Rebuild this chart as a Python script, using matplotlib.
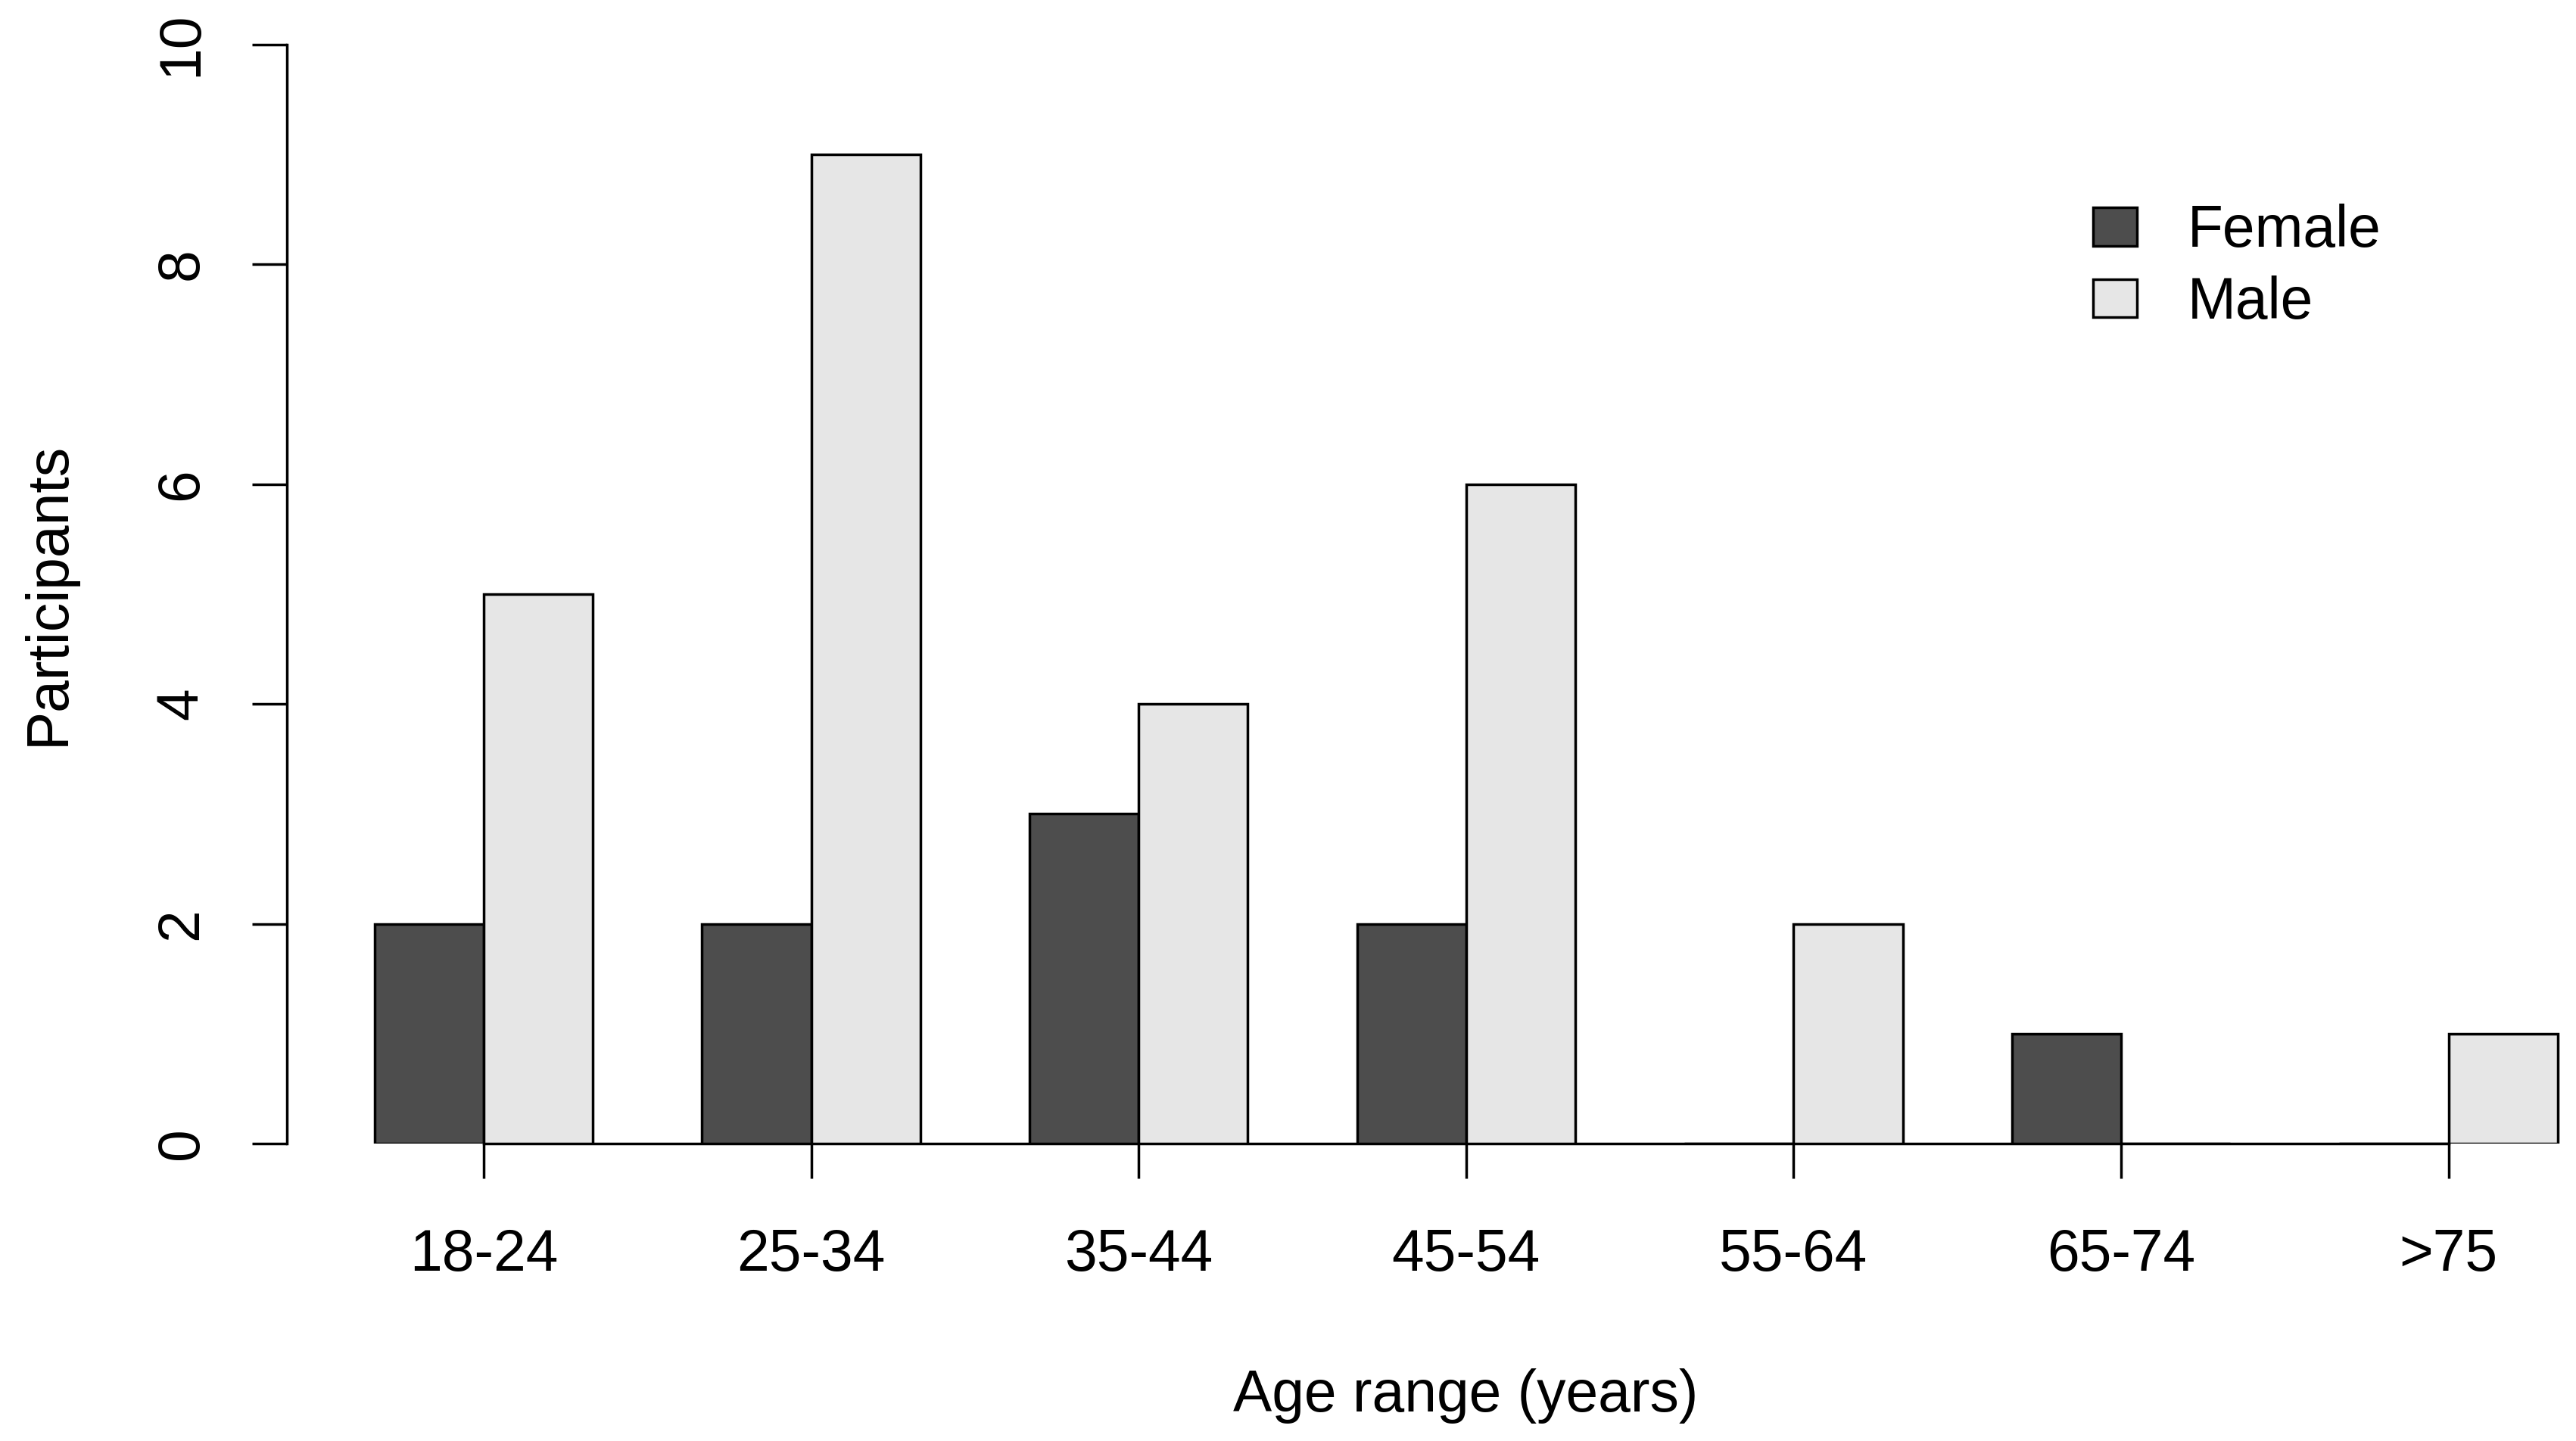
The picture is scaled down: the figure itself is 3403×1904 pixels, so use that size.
import matplotlib
matplotlib.use("Agg")
import matplotlib.pyplot as plt
import numpy as np

# data
age_groups = ['18-24', '25-34', '35-44', '45-54', '55-64', '65-74', '>75']
female = [2, 2, 3, 2, 0, 1, 0]
male = [5, 9, 4, 6, 2, 0, 1]
y_ticks = [0, 2, 4, 6, 8, 10]

plt.rcParams['font.family'] = ['Liberation Sans', 'DejaVu Sans']
fs = 55.3
lw = 2.5

fig = plt.figure(figsize=(34.03, 19.04), dpi=100)
ax = fig.add_axes([0.11149, 0.20641, 0.91529, 0.76282])

# R style beside barplot: space 1 before each group, bars of width 1
idx = np.arange(len(age_groups))
f_left = 1 + 3 * idx
m_left = 2 + 3 * idx
centers = m_left

ax.bar(f_left, female, width=1, align='edge', color='#4D4D4D',
       edgecolor='black', linewidth=lw, label='Female', zorder=3)
ax.bar(m_left, male, width=1, align='edge', color='#E6E6E6',
       edgecolor='black', linewidth=lw, label='Male', zorder=3)

ax.set_xlim(0.2, 21.8)
ax.set_ylim(0, 10)

for s in ['top', 'right']:
    ax.spines[s].set_visible(False)
ax.spines['left'].set_bounds(0, 10)
ax.spines['bottom'].set_bounds(centers[0], centers[-1])
ax.spines['left'].set_linewidth(lw)
ax.spines['bottom'].set_linewidth(lw)

ax.set_xticks(centers)
ax.set_xticklabels(age_groups, fontsize=fs)
ax.set_yticks(y_ticks)
ax.set_yticklabels([str(v) for v in y_ticks], fontsize=fs, rotation=90, va='center')
ax.tick_params(axis='x', length=33, width=lw, pad=47)
ax.tick_params(axis='y', length=33, width=lw, pad=41)

fig.text(0.5691, 0.0205, 'Age range (years)', fontsize=fs, ha='center', va='baseline')
fig.text(0.025, 0.588, 'Participants', fontsize=fs, rotation=90,
         rotation_mode='anchor', ha='center', va='baseline')

ax.legend(loc='upper left', bbox_to_anchor=(0.8125, 0.8585), bbox_transform=fig.transFigure,
          frameon=False, fontsize=fs, handlelength=0.76, handleheight=0.63,
          handletextpad=0.86, labelspacing=0.28, borderpad=0, borderaxespad=0)

fig.savefig('out.png', dpi=100)
